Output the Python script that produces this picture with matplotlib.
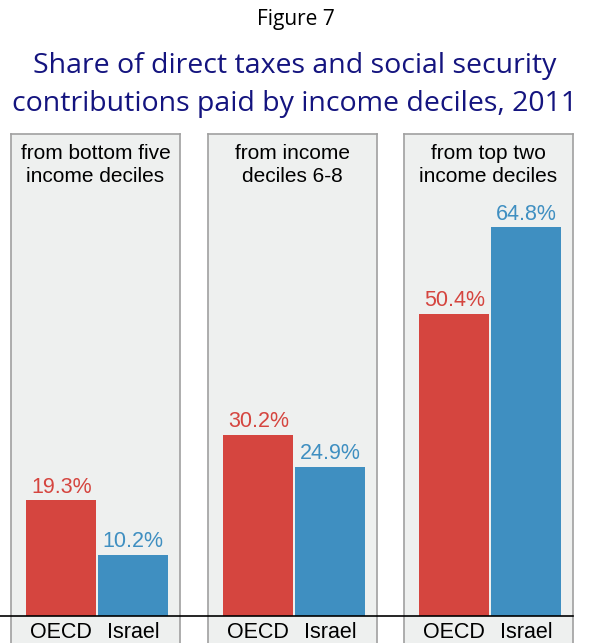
import matplotlib.pyplot as plt
from matplotlib.lines import Line2D

# данные
panel_titles = ['from bottom five\nincome deciles', 'from income\ndeciles 6-8', 'from top two\nincome deciles']
categories = ['OECD', 'Israel']
oecd = [19.3, 30.2, 50.4]
israel = [10.2, 24.9, 64.8]

red = '#d5453f'
blue = '#3f8fc1'
W, H = 592, 643

fig = plt.figure(figsize=(W / 100, H / 100), dpi=100)
plt.rcParams['font.family'] = ['Liberation Sans', 'DejaVu Sans']

fig.text(296 / W, 1 - 19 / H, 'Figure 7', ha='center', va='center', fontsize=15, family='Open Sans')
fig.text(295 / W, 1 - 85 / H, 'Share of direct taxes and social security\ncontributions paid by income deciles, 2011',
         ha='center', va='center', fontsize=20.5, color='#14147f', family='Open Sans', linespacing=1.5)

lefts = [11, 208, 404]
for k in range(3):
    ax = fig.add_axes([lefts[k] / W, 0, 169 / W, 1 - 134 / H])
    ax.set_facecolor('#eef0ef')
    for s in ax.spines.values():
        s.set_color('#a0a0a0')
        s.set_linewidth(1.2)
    ax.spines['bottom'].set_visible(False)
    ax.set_xlim(-0.7, 1.65)
    ax.set_ylim(-4.5, 80.33)
    ax.set_xticks([])
    ax.set_yticks([])
    vals = [oecd[k], israel[k]]
    cols = [red, blue]
    ax.bar([0, 1], vals, width=0.97, color=cols)
    for i in range(2):
        ax.text(i, vals[i] + 0.4, f'{vals[i]:.1f}%', ha='center', va='bottom', fontsize=15.5, color=cols[i])
        ax.text(i, -2.8, categories[i], ha='center', va='center', fontsize=15.5)
    ax.text(0.5, 1 - 31 / 509, panel_titles[k], transform=ax.transAxes, ha='center', va='center',
            fontsize=15, linespacing=1.3)

fig.add_artist(Line2D([0, 573 / W], [1 - 616 / H, 1 - 616 / H], color='black', lw=1.2))

fig.savefig('out.png', dpi=100)
